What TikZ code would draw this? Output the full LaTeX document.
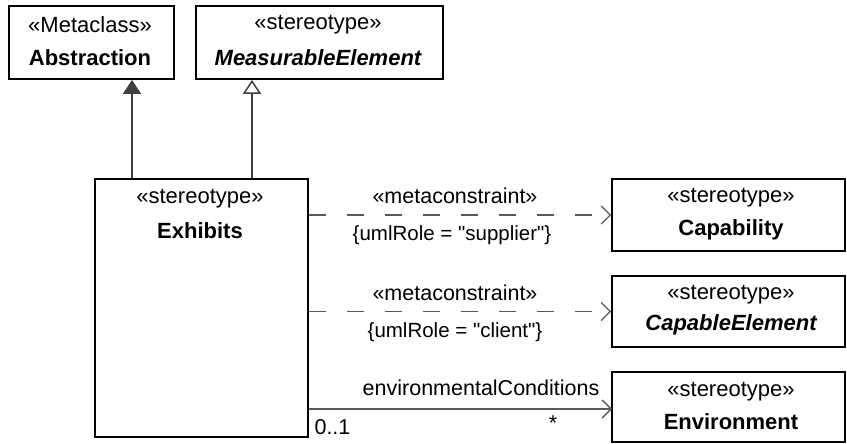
\documentclass[tikz,border=0pt]{standalone}
\usepackage{fontspec}
\setmainfont{Liberation Sans}
\usetikzlibrary{arrows.meta,positioning}
\tikzset{
  umlbox/.style={draw=black, line width=1.8pt, fill=white, inner sep=0pt},
  stxt/.style={inner sep=0pt, font=\fontsize{22}{26}\selectfont},
  ntxt/.style={inner sep=0pt, font=\fontsize{22}{26}\selectfont\bfseries},
  itxt/.style={inner sep=0pt, font=\fontsize{22}{26}\selectfont\bfseries\itshape},
  ltxt/.style={inner sep=0pt, font=\fontsize{21.5}{25}\selectfont},
  rtxt/.style={inner sep=0pt, font=\fontsize{20.5}{24}\selectfont},
  dep/.style={draw=black!65, line width=1.3pt, dash pattern=on 17pt off 21pt, -{Straight Barb[length=9pt,width=18pt,line width=1.3pt]}},
  assoc/.style={draw=black!65, line width=1.3pt, -{Straight Barb[length=9pt,width=18pt,line width=1.3pt]}},
  genf/.style={draw=black!75, line width=1.5pt, -{Triangle[length=14pt,width=18pt,fill=black!75]}},
  geno/.style={draw=black!75, line width=1.5pt, -{Triangle[open,length=14pt,width=18pt,fill=white]}},
}
\begin{document}
\begin{tikzpicture}[x=1pt,y=-1pt]
\useasboundingbox (0,0) rectangle (847,444);
% boxes
\node[umlbox, minimum width=165pt, minimum height=73pt] (abs) at (91.5,42.5) {};
\node[umlbox, minimum width=247pt, minimum height=73pt] (meas) at (319.5,42.5) {};
\node[umlbox, minimum width=213pt, minimum height=258pt] (exh) at (201.5,308) {};
\node[umlbox, minimum width=233pt, minimum height=72pt] (cap) at (728.5,215) {};
\node[umlbox, minimum width=233pt, minimum height=71pt] (ce) at (728.5,311.5) {};
\node[umlbox, minimum width=233pt, minimum height=70pt] (env) at (728.5,407) {};
% box texts
\node[stxt] (absS) at (90,25) {«Metaclass»};
\node[ntxt] (absN) at (90,58) {Abstraction};
\node[stxt] (measS) at (318,25) {«stereotype»};
\node[itxt] (measN) at (318,58) {MeasurableElement};
\node[stxt] (exhS) at (200,199) {«stereotype»};
\node[ntxt] (exhN) at (200,231) {Exhibits};
\node[stxt] (capS) at (731,198) {«stereotype»};
\node[ntxt] (capN) at (731,230) {Capability};
\node[stxt] (ceS) at (731,295) {«stereotype»};
\node[itxt] (ceN) at (731,325) {CapableElement};
\node[stxt] (envS) at (731,392) {«stereotype»};
\node[ntxt] (envN) at (731,422) {Environment};
% generalizations
\coordinate (g1) at (132,0);
\coordinate (g2) at (252,0);
\draw[genf] (exh.north -| g1) -- (abs.south -| g1);
\draw[geno] (exh.north -| g2) -- (meas.south -| g2);
% dependencies
\draw[dep] (exh.east |- cap.west) -- (cap.west)
  node[midway, ltxt, yshift=19pt, xshift=-5pt] (m1) {«metaconstraint»}
  node[midway, rtxt, yshift=-20pt, xshift=-8pt] (r1) {\{umlRole = \textquotedbl supplier\textquotedbl\}};
\draw[dep] (exh.east |- ce.west) -- (ce.west)
  node[midway, ltxt, yshift=19pt, xshift=-5pt] (m2) {«metaconstraint»}
  node[midway, rtxt, yshift=-21pt, xshift=-5pt] (r2) {\{umlRole = \textquotedbl client\textquotedbl\}};
% association
\coordinate (a0) at (0,409);
\coordinate (a1) at (612,409);
\draw[assoc] (exh.east |- a0) -- (a1)
  node[pos=1, anchor=east, ltxt, xshift=-12pt, yshift=21pt] (ec) {environmentalConditions}
  node[pos=0, anchor=west, ltxt, xshift=5pt, yshift=-18pt] (m01) {0..1}
  node[pos=1, ltxt, xshift=-59pt, yshift=-14pt] (mst) {*};
\end{tikzpicture}
\end{document}
